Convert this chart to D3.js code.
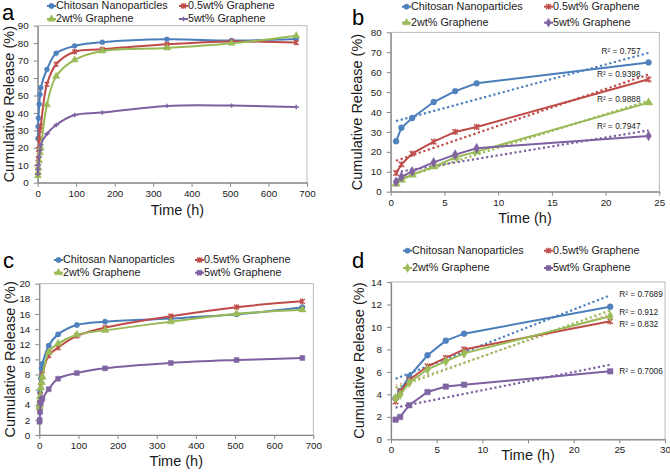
<!DOCTYPE html>
<html><head><meta charset="utf-8">
<script src="https://cdn.jsdelivr.net/npm/d3@7"></script>
<style>body{margin:0;background:#fff} svg{display:block;font-family:Arial,"Liberation Sans",sans-serif;font-weight:400}</style>
</head><body><svg id="chart" width="670" height="473"></svg>
<script>
// ---------- DATA ----------
const seriesNames = ["Chitosan Nanoparticles", "0.5wt% Graphene", "2wt% Graphene", "5wt% Graphene"];
const timeLong = [0.5, 1, 2, 4, 6, 8, 24, 48, 96, 168, 336, 504, 672];
const timeShort = [0.5, 1, 2, 4, 6, 8, 24];

// panels a / b (cumulative release %, medium 1)
const relA_chitosan = [25.3, 32.1, 37, 45, 50.5, 54.4, 64.9, 74.2, 78.4, 80.5, 82.2, 81.5, 82.4];
const relA_g05      = [9.4, 13.7, 19.1, 25.1, 30, 32.5, 56.4, 67.9, 75.1, 76.5, 79.3, 80.9, 80.3];
const relA_g2       = [4, 5.9, 8.5, 12.6, 17.2, 20.1, 44.7, 61, 70.4, 75.5, 77.2, 79.9, 84.3];
const relA_g5       = [5, 7.5, 10.2, 14.7, 18.6, 21.8, 28, 33.1, 38.8, 40.2, 44, 44.2, 43.4];

// panels c / d (cumulative release %, medium 2)
const relC_chitosan = [3.65, 4.3, 5.6, 7.48, 8.78, 9.4, 11.8, 13.3, 14.54, 14.98, 15.4, 15.95, 16.9];
const relC_g05      = [3.35, 4.24, 5.28, 6.5, 7.24, 8.0, 10.5, 11.55, 13.1, 14.2, 15.7, 16.9, 17.67];
const relC_g2       = [3.65, 3.97, 5.04, 6.23, 6.94, 7.65, 10.95, 12.07, 13.26, 13.83, 14.98, 16.03, 16.56];
const relC_g5       = [1.75, 1.99, 3.03, 4.21, 4.69, 4.86, 6.05, 7.44, 8.19, 8.81, 9.52, 9.91, 10.18];

const r2B = ["R² = 0.757", "R² = 0.9398", "R² = 0.9888", "R² = 0.7947"];
const r2D = ["R² = 0.7689", "R² = 0.832", "R² = 0.912", "R² = 0.7006"];

const xTicksLong = [0, 100, 200, 300, 400, 500, 600, 700];
const yTicksA = [0, 10, 20, 30, 40, 50, 60, 70, 80, 90];
const xTicksB = [0, 5, 10, 15, 20, 25];
const yTicksB = [0, 10, 20, 30, 40, 50, 60, 70, 80];
const yTicksC = [0, 2, 4, 6, 8, 10, 12, 14, 16, 18, 20];
const xTicksD = [0, 5, 10, 15, 20, 25, 30];
const xTickLabelsD = ["0", "5", "10", "", "20", "25", "30"]; // "15" is hidden under the axis title in the original
const yTicksD = [0, 2, 4, 6, 8, 10, 12, 14];

// ---------- STYLE ----------
const lineColors = ["#4a7ebb", "#be4b48", "#98b954", "#7d60a0"];
const fillColors = ["#4f81bd", "#c0504d", "#9bbb59", "#8064a2"];
const axisColor = "#868686";
const textColor = "#1a1a1a";

const svg = d3.select("#chart");

function drawMarker(g, type, x, y, i, scale = 1) {
  const c = fillColors[i];
  if (type === "star") {
    const s = 2.7 * scale;
    g.append("path").attr("transform", `translate(${x},${y})`)
      .attr("d", `M${-s},${-s}L${s},${s}M${-s},${s}L${s},${-s}M0,${-s - 0.4}L0,${s + 0.4}`)
      .attr("stroke", c).attr("stroke-width", 1.4).attr("fill", "none");
  } else if (type === "plus") {
    const s = 3.2 * scale;
    g.append("path").attr("transform", `translate(${x},${y})`)
      .attr("d", `M${-s},0L${s},0M0,${-s * 0.8}L0,${s * 0.8}`)
      .attr("stroke", c).attr("stroke-width", 1.5).attr("fill", "none");
  } else {
    const map = {circle: [d3.symbolCircle, 27], triangle: [d3.symbolTriangle, 30], diamond: [d3.symbolDiamond, 28], square: [d3.symbolSquare, 30]};
    const [sym, size] = map[type];
    g.append("path").attr("transform", `translate(${x},${y})`)
      .attr("d", d3.symbol(sym, size * scale * scale)())
      .attr("fill", c).attr("stroke", c).attr("stroke-width", 0.5);
  }
}

function regress(xs, ys) {
  const mx = d3.mean(xs), my = d3.mean(ys);
  let sxy = 0, sxx = 0;
  xs.forEach((x, k) => { sxy += (x - mx) * (ys[k] - my); sxx += (x - mx) * (x - mx); });
  const b = sxy / sxx;
  return {b, a: my - b * mx};
}

function drawPanel(p) {
  const g = svg.append("g");
  const x = d3.scaleLinear().domain(p.xDomain).range([p.left, p.right]);
  const y = d3.scaleLinear().domain(p.yDomain).range([p.bottom, p.top]);

  // plot border
  g.append("rect").attr("x", p.left).attr("y", p.top)
    .attr("width", p.right - p.left).attr("height", p.bottom - p.top)
    .attr("fill", "none").attr("stroke", "#a8a8a8").attr("stroke-width", 0.8);

  const xa = d3.axisBottom(x).tickValues(p.xTicks).tickSize(4).tickSizeOuter(0).tickPadding(3);
  if (p.xTickLabels) xa.tickFormat((d, k) => p.xTickLabels[k]);
  const xAxis = g.append("g").attr("transform", `translate(0,${p.bottom})`).call(xa);
  const yAxis = g.append("g").attr("transform", `translate(${p.left},0)`)
    .call(d3.axisLeft(y).tickValues(p.yTicks).tickSize(4).tickSizeOuter(0).tickPadding(5));
  [xAxis, yAxis].forEach(ax => {
    ax.attr("font-family", null).attr("font-size", null);
    ax.select(".domain").attr("stroke", axisColor).attr("stroke-width", 1.2);
    ax.selectAll(".tick line").attr("stroke", axisColor);
    ax.selectAll(".tick text").attr("font-size", 9.8).attr("fill", textColor);
  });

  // axis titles
  g.append("text").attr("x", (p.left + p.right) / 2 + p.xtOff).attr("y", p.xtY)
    .attr("text-anchor", "middle").attr("font-size", 14.5).attr("fill", textColor).text("Time (h)");
  g.append("text").attr("transform", `translate(${p.ytX},${(p.top + p.bottom) / 2 + p.ytOff}) rotate(-90)`)
    .attr("text-anchor", "middle").attr("dominant-baseline", "middle").attr("font-size", 14.5)
    .attr("fill", textColor).text("Cumulative Release (%)");
  // panel letter
  g.append("text").attr("x", p.letterX).attr("y", p.letterY).attr("font-size", 22).attr("fill", "#000").text(p.letter);

  // trendlines
  if (p.trend) {
    p.series.forEach((vals, i) => {
      const xs = p.times, ys = vals;
      const {a, b} = regress(xs, ys);
      const x0 = xs[0], x1 = xs[xs.length - 1];
      g.append("line").attr("x1", x(x0)).attr("y1", y(a + b * x0))
        .attr("x2", x(x1)).attr("y2", y(a + b * x1))
        .attr("stroke", lineColors[i]).attr("stroke-width", p.trendWidth[i])
        .attr("stroke-opacity", p.trendOpacity[i])
        .attr("stroke-dasharray", "2.2,2.6");
    });
  }

  // series lines and markers
  p.series.forEach((vals, i) => {
    const pts = p.times.map((t, k) => [x(t), y(vals[k])]);
    g.append("path").attr("d", d3.line().curve(p.smooth ? d3.curveCatmullRom.alpha(0.5) : d3.curveLinear)(pts))
      .attr("fill", "none").attr("stroke", lineColors[i]).attr("stroke-width", 2);
    pts.forEach(([px, py]) => drawMarker(g, p.markers[i], px, py, i, p.markerScale));
  });

  // R² labels
  if (p.r2) {
    p.r2.forEach((txt, i) => {
      const t = g.append("text").attr("font-size", 8.3).attr("fill", "#222")
        .attr("dominant-baseline", "middle")
        .attr("y", y(p.r2Y[i])).text(txt);
      if (p.r2Anchor === "end") t.attr("text-anchor", "end").attr("x", x(p.times[p.times.length - 1]) - 8);
      else t.attr("text-anchor", "start").attr("x", x(p.times[p.times.length - 1]) + 9);
    });
  }

  // legend
  const L = p.legend;
  seriesNames.forEach((name, i) => {
    const col = i % 2, row = Math.floor(i / 2);
    const lx = L.cols[col], ly = L.rows[row];
    g.append("line").attr("x1", lx - 9).attr("x2", lx).attr("y1", ly).attr("y2", ly)
      .attr("stroke", lineColors[i]).attr("stroke-width", 2);
    drawMarker(g, p.markers[i], lx - 4.5, ly, i, 0.9);
    g.append("text").attr("x", lx).attr("y", ly).attr("dominant-baseline", "middle")
      .attr("font-size", 10.8).attr("fill", textColor).text(name);
  });
}

drawPanel({
  letter: "a", letterX: 2, letterY: 20,
  left: 37.7, right: 307, top: 25.7, bottom: 182.7,
  xDomain: [0, 700], yDomain: [0, 90], xTicks: xTicksLong, yTicks: yTicksA,
  times: timeLong, series: [relA_chitosan, relA_g05, relA_g2, relA_g5],
  markers: ["circle", "star", "triangle", "plus"], smooth: true, markerScale: 0.85,
  xtY: 215, xtOff: 5, ytX: 10, ytOff: 0,
  legend: {cols: [56, 188], rows: [6, 19]}
});
drawPanel({
  letter: "b", letterX: 352, letterY: 25,
  left: 390.7, right: 659.3, top: 32.3, bottom: 191.7,
  xDomain: [0, 25], yDomain: [0, 80], xTicks: xTicksB, yTicks: yTicksB,
  times: timeShort, series: [relA_chitosan, relA_g05, relA_g2, relA_g5].map(s => s.slice(0, 7)),
  markers: ["circle", "star", "triangle", "diamond"], smooth: false, markerScale: 1,
  trend: true, trendWidth: [2.2, 2.2, 2.2, 2.2], trendOpacity: [1, 1, 1, 1],
  r2: r2B, r2Y: [70.4, 58.6, 46.1, 32.7], r2Anchor: "end",
  xtY: 223, xtOff: 0, ytX: 358, ytOff: 0,
  legend: {cols: [411, 553], rows: [6.7, 22.7]}
});
drawPanel({
  letter: "c", letterX: 3, letterY: 268,
  left: 39.3, right: 313.3, top: 283.7, bottom: 435,
  xDomain: [0, 700], yDomain: [0, 20], xTicks: xTicksLong, yTicks: yTicksC,
  times: timeLong, series: [relC_chitosan, relC_g05, relC_g2, relC_g5],
  markers: ["circle", "star", "triangle", "square"], smooth: true, markerScale: 0.9,
  xtY: 466, xtOff: 0, ytX: 11, ytOff: 0,
  legend: {cols: [63, 204], rows: [260, 272.7]}
});
drawPanel({
  letter: "d", letterX: 352, letterY: 268,
  left: 391, right: 665, top: 282, bottom: 439.3,
  xDomain: [0, 30], yDomain: [0, 14], xTicks: xTicksD, xTickLabels: xTickLabelsD, yTicks: yTicksD,
  times: timeShort, series: [relC_chitosan, relC_g05, relC_g2, relC_g5].map(s => s.slice(0, 7)),
  markers: ["circle", "star", "diamond", "square"], smooth: false, markerScale: 1,
  trend: true, trendWidth: [2.2, 1.2, 2.2, 2.2], trendOpacity: [1, 0.45, 1, 1],
  r2: r2D, r2Y: [12.86, 10.2, 11.28, 6.04], r2Anchor: "start",
  xtY: 460, xtOff: 0, ytX: 360, ytOff: 0,
  legend: {cols: [412, 553], rows: [250.7, 268]}
});
</script></body></html>
